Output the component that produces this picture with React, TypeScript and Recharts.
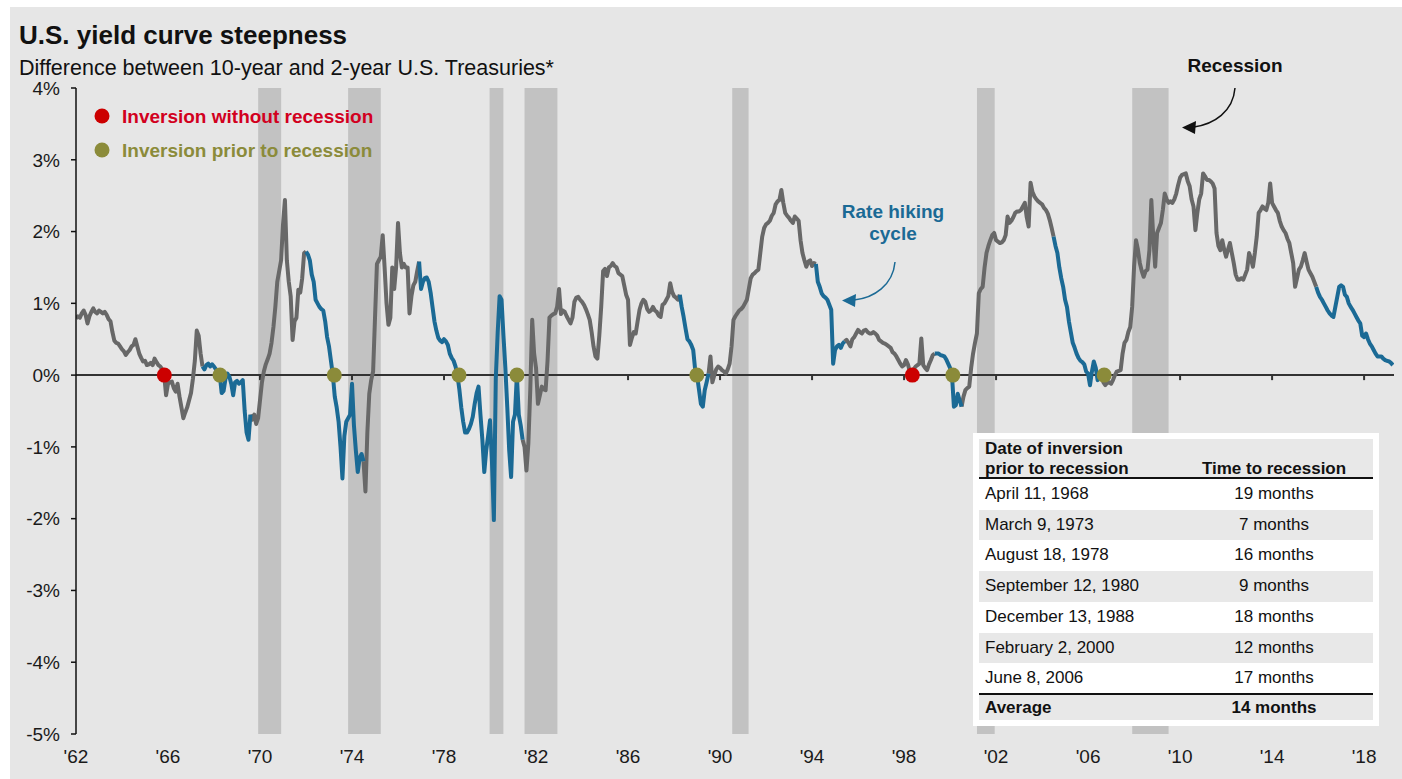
import React from 'react';
import {
  ComposedChart,
  Line,
  XAxis,
  YAxis,
  ReferenceArea,
  ReferenceLine,
  ReferenceDot,
} from 'recharts';

// ---------- DATA ----------
const START_YEAR = 1962;

// Monthly 10y-2y spread (%), one row per year (Jan..Dec)
const spread1960s: number[][] = [
  [0.79, 0.82, 0.80, 0.86, 0.90, 0.84, 0.72, 0.82, 0.88, 0.93, 0.88, 0.86], // 1962
  [0.90, 0.88, 0.86, 0.88, 0.84, 0.78, 0.75, 0.60, 0.48, 0.45, 0.44, 0.40], // 1963
  [0.36, 0.33, 0.28, 0.32, 0.35, 0.40, 0.42, 0.50, 0.40, 0.30, 0.24, 0.19], // 1964
  [0.20, 0.14, 0.15, 0.17, 0.14, 0.23, 0.18, 0.14, 0.12, 0.08, 0.00, -0.28], // 1965
  [-0.12, -0.10, -0.09, -0.18, -0.23, -0.12, -0.30, -0.45, -0.60, -0.52, -0.45, -0.35], // 1966
  [-0.25, -0.05, 0.20, 0.62, 0.55, 0.30, 0.12, 0.08, 0.14, 0.16, 0.12, 0.15], // 1967
  [0.12, 0.08, 0.05, 0.00, -0.25, -0.22, -0.05, 0.02, -0.02, -0.12, -0.28, -0.10], // 1968
  [-0.08, -0.12, -0.10, -0.07, -0.50, -0.80, -0.90, -0.55, -0.62, -0.55, -0.68, -0.60], // 1969
];
const spread1970s: number[][] = [
  [-0.35, -0.10, 0.05, 0.15, 0.22, 0.30, 0.45, 0.67, 0.95, 1.30, 1.45, 1.60], // 1970
  [2.10, 2.44, 1.60, 1.30, 1.10, 0.49, 0.75, 0.80, 1.19, 1.15, 1.35, 1.70], // 1971
  [1.72, 1.68, 1.60, 1.40, 1.30, 1.05, 1.00, 0.95, 0.92, 0.90, 0.75, 0.53], // 1972
  [0.40, 0.20, 0.00, -0.30, -0.45, -0.65, -1.00, -1.44, -0.85, -0.65, -0.60, -0.55], // 1973
  [-0.12, -0.70, -1.05, -1.35, -1.15, -1.10, -1.20, -1.62, -0.80, -0.26, -0.07, 0.05], // 1974
  [0.80, 1.55, 1.60, 1.65, 1.95, 1.50, 1.00, 0.70, 0.80, 1.50, 1.20, 1.50], // 1975
  [2.12, 1.70, 1.50, 1.55, 1.50, 1.50, 0.86, 1.10, 1.25, 1.30, 1.45, 1.58], // 1976
  [1.20, 1.30, 1.35, 1.36, 1.30, 1.15, 0.95, 0.75, 0.62, 0.52, 0.48, 0.46], // 1977
  [0.50, 0.47, 0.42, 0.30, 0.24, 0.20, 0.12, 0.00, -0.20, -0.45, -0.65, -0.80], // 1978
  [-0.80, -0.75, -0.68, -0.58, -0.40, -0.25, -0.16, -0.55, -0.90, -1.35, -1.05, -0.85], // 1979
];
const spread1980s: number[][] = [
  [-0.63, -1.20, -2.02, -0.05, 0.60, 1.10, 1.05, 0.55, 0.10, -0.45, -1.05, -1.42], // 1980
  [-0.65, -0.55, 0.00, -0.55, -0.70, -0.90, -1.00, -1.33, -0.95, -0.20, 0.77, 0.30], // 1981
  [0.10, -0.40, -0.28, -0.16, -0.20, -0.21, 0.20, 0.80, 0.83, 0.85, 0.86, 0.95], // 1982
  [1.20, 0.85, 0.90, 0.88, 0.82, 0.77, 0.72, 0.80, 1.02, 1.08, 1.09, 1.05], // 1983
  [1.02, 0.98, 0.92, 0.85, 0.77, 0.60, 0.40, 0.26, 0.23, 0.55, 0.95, 1.45], // 1984
  [1.48, 1.38, 1.50, 1.52, 1.56, 1.52, 1.50, 1.42, 1.40, 1.38, 1.25, 1.12], // 1985
  [1.05, 0.42, 0.52, 0.60, 0.58, 0.75, 0.91, 1.00, 1.05, 1.02, 0.92, 0.88], // 1986
  [0.90, 0.95, 0.90, 0.88, 0.83, 0.81, 0.98, 1.00, 1.05, 1.10, 1.28, 1.16], // 1987
  [1.10, 1.08, 1.05, 1.12, 0.95, 0.81, 0.65, 0.50, 0.47, 0.42, 0.35, 0.08], // 1988
  [0.00, -0.20, -0.40, -0.44, -0.21, -0.10, 0.02, 0.26, -0.10, 0.00, 0.08, 0.12], // 1989
];
const spread1990s: number[][] = [
  [0.10, 0.07, 0.05, 0.02, 0.08, 0.16, 0.40, 0.77, 0.82, 0.86, 0.90, 0.92], // 1990
  [0.95, 1.00, 1.05, 1.20, 1.35, 1.40, 1.42, 1.45, 1.47, 1.70, 1.93, 2.05], // 1991
  [2.10, 2.12, 2.15, 2.22, 2.26, 2.38, 2.42, 2.44, 2.58, 2.40, 2.26, 2.22], // 1992
  [2.19, 2.15, 2.12, 2.21, 2.18, 2.15, 1.88, 1.70, 1.60, 1.51, 1.58, 1.60], // 1993
  [1.52, 1.56, 1.55, 1.30, 1.23, 1.14, 1.10, 1.08, 1.05, 0.98, 0.91, 0.16], // 1994
  [0.35, 0.40, 0.42, 0.38, 0.44, 0.47, 0.49, 0.45, 0.40, 0.50, 0.53, 0.58], // 1995
  [0.63, 0.60, 0.58, 0.62, 0.63, 0.60, 0.58, 0.58, 0.60, 0.58, 0.55, 0.49], // 1996
  [0.47, 0.45, 0.44, 0.42, 0.40, 0.38, 0.32, 0.30, 0.26, 0.21, 0.16, 0.12], // 1997
  [0.14, 0.21, 0.15, 0.05, 0.00, 0.08, 0.12, 0.14, 0.16, 0.51, 0.14, 0.10], // 1998
  [0.07, 0.15, 0.21, 0.28, 0.30, 0.30, 0.30, 0.28, 0.27, 0.26, 0.22, 0.16], // 1999
];
const spread2000s: number[][] = [
  [0.10, 0.00, -0.44, -0.42, -0.26, -0.35, -0.44, -0.30, -0.21, -0.18, -0.16, 0.10], // 2000
  [0.30, 0.45, 0.58, 1.14, 1.20, 1.23, 1.50, 1.70, 1.80, 1.88, 1.95, 1.98], // 2001
  [1.88, 1.86, 1.84, 1.85, 1.88, 1.95, 2.21, 2.12, 2.15, 2.20, 2.26, 2.28], // 2002
  [2.28, 2.30, 2.35, 2.40, 2.20, 2.07, 2.68, 2.55, 2.49, 2.45, 2.42, 2.40], // 2003
  [2.38, 2.33, 2.30, 2.25, 2.16, 2.05, 1.93, 1.80, 1.70, 1.50, 1.35, 1.23], // 2004
  [1.05, 0.95, 0.75, 0.60, 0.45, 0.38, 0.30, 0.24, 0.20, 0.18, 0.15, 0.05], // 2005
  [0.02, -0.14, 0.05, 0.19, 0.10, -0.07, 0.02, 0.00, -0.10, -0.14, -0.10, -0.10], // 2006
  [-0.12, -0.07, 0.00, 0.05, 0.06, 0.07, 0.30, 0.45, 0.49, 0.60, 0.67, 0.95], // 2007
  [1.51, 1.88, 1.75, 1.56, 1.45, 1.37, 1.45, 1.47, 1.74, 2.44, 1.93, 1.51], // 2008
  [1.98, 2.05, 2.12, 2.30, 2.53, 2.45, 2.40, 2.42, 2.40, 2.45, 2.53, 2.65], // 2009
];
const spread2010s: number[][] = [
  [2.75, 2.79, 2.80, 2.81, 2.70, 2.63, 2.45, 2.35, 2.02, 2.26, 2.45, 2.53], // 2010
  [2.81, 2.77, 2.72, 2.72, 2.70, 2.67, 2.60, 1.98, 1.80, 1.74, 1.88, 1.75], // 2011
  [1.65, 1.75, 1.84, 1.70, 1.56, 1.40, 1.33, 1.33, 1.35, 1.33, 1.40, 1.47], // 2012
  [1.70, 1.62, 1.51, 1.70, 1.93, 2.26, 2.30, 2.35, 2.32, 2.30, 2.40, 2.67], // 2013
  [2.40, 2.35, 2.30, 2.26, 2.15, 2.07, 2.02, 1.98, 1.90, 1.84, 1.70, 1.56], // 2014
  [1.23, 1.35, 1.47, 1.51, 1.60, 1.70, 1.58, 1.47, 1.42, 1.37, 1.30, 1.23], // 2015
  [1.15, 1.09, 1.05, 1.00, 0.95, 0.90, 0.86, 0.83, 0.81, 0.95, 1.09, 1.23], // 2016
  [1.25, 1.23, 1.12, 1.09, 1.00, 0.95, 0.91, 0.86, 0.81, 0.76, 0.72, 0.55], // 2017
  [0.53, 0.58, 0.50, 0.44, 0.40, 0.35, 0.30, 0.26, 0.26, 0.26, 0.23, 0.21], // 2018
  [0.20, 0.19, 0.17, 0.14], // 2019
];

// Rate hiking cycles (decimal years) – drawn in blue
const hikingCycles: [number, number][] = [
  [1967.5, 1969.6],
  [1972.0, 1974.5],
  [1976.9, 1981.45],
  [1988.2, 1989.5],
  [1994.1, 1995.45],
  [1999.3, 2000.5],
  [2004.45, 2006.65],
  [2015.9, 2019.3],
];

// Recessions (decimal years)
const recessions: [number, number][] = [
  [1969.92, 1970.92],
  [1973.83, 1975.25],
  [1979.98, 1980.58],
  [1981.5, 1982.93],
  [1990.53, 1991.24],
  [2001.17, 2001.94],
  [2007.92, 2009.5],
];

// Inversion markers (decimal years, at 0%)
const inversionsWithoutRecession: number[] = [1965.84, 1998.36];
const inversionsPriorToRecession: number[] = [1968.26, 1973.23, 1978.65, 1981.17, 1988.99, 2000.12, 2006.7];

const xTicks: number[] = [1962, 1966, 1970, 1974, 1978, 1982, 1986, 1990, 1994, 1998, 2002, 2006, 2010, 2014, 2018];
const yTicks: number[] = [-5, -4, -3, -2, -1, 0, 1, 2, 3, 4];

// Table
const tableDates: string[] = [
  'April 11, 1968',
  'March 9, 1973',
  'August 18, 1978',
  'September 12, 1980',
  'December 13, 1988',
  'February 2, 2000',
  'June 8, 2006',
];
const tableMonths: string[] = ['19 months', '7 months', '16 months', '9 months', '18 months', '12 months', '17 months'];
const tableAverage = '14 months';

// ---------- BUILD ----------
const allRows: number[][] = [...spread1960s, ...spread1970s, ...spread1980s, ...spread1990s, ...spread2000s, ...spread2010s];
const points: { x: number; v: number }[] = [];
allRows.forEach((row, yi) => row.forEach((v, m) => points.push({ x: START_YEAR + yi + m / 12, v })));
const isHike = (x: number) => hikingCycles.some(([a, b]) => x >= a && x <= b);
const data = points.map((p, i) => {
  const h = isHike(p.x);
  const prevH = i > 0 ? isHike(points[i - 1].x) : h;
  const nextH = i < points.length - 1 ? isHike(points[i + 1].x) : h;
  const gray = !h || !prevH || !nextH ? p.v : null;
  const blue = h ? p.v : null;
  return { x: p.x, gray, blue };
});

const FONT = '"Liberation Sans", Arial, Helvetica, sans-serif';
const BG = '#e6e6e6';
const GRAY_LINE = '#686868';
const BLUE = '#1b6a95';
const RED = '#cc0000';
const OLIVE = '#8b8b3a';
const BAR = '#c2c2c2';

export default function App() {
  const rowH = 30.7;
  return (
    <div style={{ position: 'absolute', left: 0, top: 0, width: 1402, height: 779, background: '#fff', fontFamily: FONT }}>
      <div style={{ position: 'absolute', left: 10, top: 7, width: 1392, height: 772, background: BG }} />
      <div style={{ position: 'absolute', left: 0, top: 0 }}>
        <ComposedChart width={1402} height={779} data={data} margin={{ top: 88, right: 8, bottom: 0, left: 0 }}>
          {recessions.map(([a, b], i) => (
            <ReferenceArea key={'r' + i} x1={a} x2={b} y1={-5} y2={4} fill={BAR} fillOpacity={1} stroke="none" ifOverflow="visible" />
          ))}
          <XAxis
            dataKey="x"
            type="number"
            domain={[1962, 2019.3]}
            ticks={xTicks}
            tickFormatter={(v: number) => "'" + String(v).slice(2)}
            axisLine={false}
            tickLine={false}
            tickSize={0}
            tickMargin={16}
            height={45}
            allowDataOverflow
            interval={0}
            tick={{ fill: '#1a1a1a', fontSize: 19, fontFamily: FONT }}
          />
          <YAxis
            type="number"
            domain={[-5, 4]}
            ticks={yTicks}
            tickFormatter={(v: number) => `${v}%`}
            width={76}
            axisLine={{ stroke: '#111', strokeWidth: 1.5 }}
            tickLine={{ stroke: '#111', strokeWidth: 1.5 }}
            tickSize={5}
            tickMargin={11}
            interval={0}
            allowDataOverflow
            tick={{ fill: '#1a1a1a', fontSize: 19, fontFamily: FONT }}
          />
          <ReferenceLine y={0} stroke="#333" strokeWidth={2} />
          {xTicks.slice(1).map((t) => (
            <ReferenceLine
              key={'t' + t}
              segment={[
                { x: t, y: 0 },
                { x: t, y: -0.07 },
              ]}
              stroke="#333"
              strokeWidth={2}
            />
          ))}
          <Line
            dataKey="gray"
            type="linear"
            stroke={GRAY_LINE}
            strokeWidth={4}
            strokeLinejoin="round"
            dot={false}
            activeDot={false}
            connectNulls={false}
            isAnimationActive={false}
          />
          <Line
            dataKey="blue"
            type="linear"
            stroke={BLUE}
            strokeWidth={4}
            strokeLinejoin="round"
            dot={false}
            activeDot={false}
            connectNulls={false}
            isAnimationActive={false}
          />
          {inversionsWithoutRecession.map((x) => (
            <ReferenceDot key={'n' + x} x={x} y={0} r={7.5} fill={RED} stroke="none" />
          ))}
          {inversionsPriorToRecession.map((x) => (
            <ReferenceDot key={'p' + x} x={x} y={0} r={7.5} fill={OLIVE} stroke="none" />
          ))}
        </ComposedChart>
      </div>

      <svg width={1402} height={779} style={{ position: 'absolute', left: 0, top: 0, pointerEvents: 'none' }}>
        <text x={19} y={44} fontFamily={FONT} fontSize={26} fontWeight="bold" fill="#111">
          U.S. yield curve steepness
        </text>
        <text x={19} y={75} fontFamily={FONT} fontSize={21.5} fill="#111">
          Difference between 10-year and 2-year U.S. Treasuries*
        </text>
        <circle cx={102} cy={116} r={7.5} fill={RED} />
        <text x={122} y={123} fontFamily={FONT} fontSize={19} fontWeight="bold" fill="#d2001e">
          Inversion without recession
        </text>
        <circle cx={102} cy={150} r={7.5} fill={OLIVE} />
        <text x={122} y={157} fontFamily={FONT} fontSize={19} fontWeight="bold" fill={OLIVE}>
          Inversion prior to recession
        </text>

        <text x={1235} y={72} textAnchor="middle" fontFamily={FONT} fontSize={19} fontWeight="bold" fill="#111">
          Recession
        </text>
        <path d="M1235,88 C1233,112 1214,124 1194,127" fill="none" stroke="#111" strokeWidth={1.5} />
        <polygon points="1182,127.5 1196,121 1195,134" fill="#111" />

        <text x={893} y={218} textAnchor="middle" fontFamily={FONT} fontSize={19} fontWeight="bold" fill={BLUE}>
          Rate hiking
        </text>
        <text x={893} y={240} textAnchor="middle" fontFamily={FONT} fontSize={19} fontWeight="bold" fill={BLUE}>
          cycle
        </text>
        <path d="M895,262 C893,285 874,298 854,300" fill="none" stroke={BLUE} strokeWidth={1.5} />
        <polygon points="842,300.5 856,294 855,307" fill={BLUE} />
      </svg>

      <div
        style={{
          position: 'absolute',
          left: 973,
          top: 433,
          width: 406,
          height: 293,
          background: '#fff',
          fontFamily: FONT,
          fontSize: 17,
          color: '#111',
        }}
      >
        <div style={{ position: 'absolute', left: 6, top: 6, width: 394, height: 38, background: '#e8e8e8', fontWeight: 'bold' }}>
          <div style={{ position: 'absolute', left: 6, top: 0, lineHeight: '20px' }}>
            Date of inversion
            <br />
            prior to recession
          </div>
          <div style={{ position: 'absolute', left: 196, width: 198, top: 20, lineHeight: '20px', textAlign: 'center' }}>
            Time to recession
          </div>
        </div>
        <div style={{ position: 'absolute', left: 6, top: 44, width: 394, height: 2, background: '#111' }} />
        {tableDates.map((d, i) => (
          <div
            key={d}
            style={{
              position: 'absolute',
              left: 6,
              top: 46 + i * rowH,
              width: 394,
              height: rowH,
              background: i % 2 === 1 ? '#e8e8e8' : '#fff',
              lineHeight: rowH + 'px',
            }}
          >
            <div style={{ position: 'absolute', left: 6, top: 0 }}>{d}</div>
            <div style={{ position: 'absolute', left: 196, width: 198, top: 0, textAlign: 'center' }}>{tableMonths[i]}</div>
          </div>
        ))}
        <div style={{ position: 'absolute', left: 6, top: 260, width: 394, height: 2, background: '#111' }} />
        <div
          style={{
            position: 'absolute',
            left: 6,
            top: 262,
            width: 394,
            height: 25,
            background: '#e8e8e8',
            lineHeight: '25px',
            fontWeight: 'bold',
          }}
        >
          <div style={{ position: 'absolute', left: 6, top: 0 }}>Average</div>
          <div style={{ position: 'absolute', left: 196, width: 198, top: 0, textAlign: 'center' }}>{tableAverage}</div>
        </div>
      </div>
    </div>
  );
}
